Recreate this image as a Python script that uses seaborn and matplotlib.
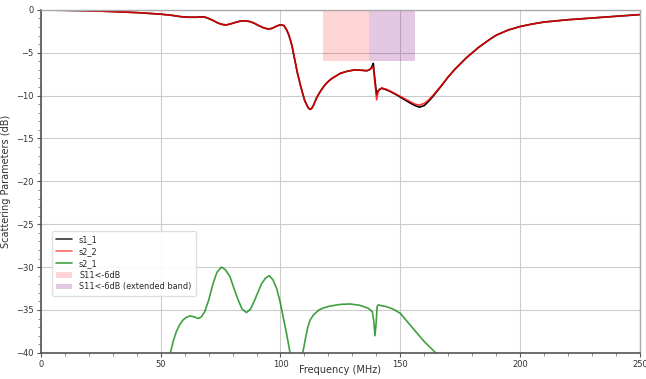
import matplotlib
matplotlib.use("Agg")
import matplotlib.pyplot as plt
from matplotlib.ticker import MultipleLocator
from matplotlib.patches import Patch
from matplotlib.lines import Line2D
import seaborn as sns
import pandas as pd

# Reflection coefficients S11 / S22 (dB) vs frequency (MHz)
freq_s = [0, 10, 20, 30, 40, 50, 55, 58, 60, 62,
          65, 67, 68.5, 70, 72, 74, 76, 77.5, 79, 81,
          83, 85, 87, 89, 91, 93, 95, 96.5, 98, 99.5,
          100.5, 101.5, 102.5, 103.3, 104, 104.8, 105.5, 106.3, 107, 107.8,
          108.5, 109.3, 110, 110.8, 111.5, 112.3, 113, 113.8, 115, 116,
          117, 118, 119, 120.5, 122, 125, 128, 131, 134, 136,
          137, 137.8, 138.4, 138.7, 139.3, 140.1, 140.6, 141.2, 142.2, 144,
          146, 148, 151, 154, 156, 158, 160, 162, 164, 167,
          170, 172.5, 175, 177.5, 180, 182.5, 185, 187.5, 190, 195,
          200, 205, 210, 220, 230, 240, 250]
s11 = [-0.02, -0.05, -0.1, -0.2, -0.32, -0.5, -0.65, -0.78, -0.83, -0.86,
       -0.86, -0.82, -0.85, -1.0, -1.25, -1.55, -1.72, -1.75, -1.65, -1.48,
       -1.33, -1.28, -1.35, -1.55, -1.85, -2.1, -2.25, -2.15, -1.95, -1.78,
       -1.75, -1.85, -2.3, -2.8, -3.4, -4.2, -5.2, -6.3, -7.3, -8.2,
       -9.0, -9.8, -10.5, -11.0, -11.4, -11.6, -11.5, -11.1, -10.3, -9.8,
       -9.35, -8.95, -8.6, -8.2, -7.9, -7.4, -7.15, -7.0, -7.05, -7.1,
       -7.0, -6.8, -6.45, -6.25, -8.0, -9.9, -9.5, -9.3, -9.15, -9.3,
       -9.55, -9.85, -10.35, -10.85, -11.15, -11.35, -11.15, -10.6, -9.95, -8.9,
       -7.8, -7.0, -6.3, -5.6, -5.0, -4.4, -3.9, -3.4, -2.95, -2.35,
       -1.94, -1.65, -1.42, -1.15, -0.95, -0.75, -0.55]
s22 = [-0.02, -0.05, -0.1, -0.2, -0.32, -0.5, -0.65, -0.78, -0.83, -0.86,
       -0.86, -0.82, -0.85, -1.0, -1.25, -1.55, -1.72, -1.75, -1.65, -1.48,
       -1.33, -1.28, -1.35, -1.55, -1.85, -2.1, -2.25, -2.15, -1.95, -1.78,
       -1.75, -1.85, -2.3, -2.8, -3.4, -4.2, -5.2, -6.3, -7.3, -8.2,
       -9.0, -9.8, -10.5, -11.0, -11.4, -11.6, -11.5, -11.1, -10.3, -9.8,
       -9.35, -8.95, -8.6, -8.2, -7.9, -7.4, -7.15, -7.0, -7.05, -7.1,
       -7.0, -6.85, -6.7, -6.6, -8.3, -10.5, -9.6, -9.3, -9.1, -9.25,
       -9.5, -9.8, -10.25, -10.7, -11.0, -11.1, -10.9, -10.45, -9.85, -8.85,
       -7.8, -7.0, -6.3, -5.6, -5.0, -4.4, -3.9, -3.4, -2.95, -2.35,
       -1.94, -1.65, -1.42, -1.15, -0.95, -0.75, -0.55]

# Transmission S21 (dB)
freq_t = [52, 54.1, 55.3, 56.6, 58, 59.4, 60.8, 62.2, 64, 65.7,
          67, 68.4, 70, 71.9, 73.5, 75.4, 77, 78.9, 80.5, 82.3,
          84, 85.8, 87.5, 89, 90.5, 92, 93.7, 95.3, 96.9, 98.4,
          99.8, 101.1, 102.5, 103.9, 105, 107, 109.3, 110.5, 111.4, 112.3,
          113.7, 116, 118, 120.6, 125, 129, 133, 136.6, 138.3, 138.9,
          139.4, 139.9, 140.3, 140.8, 142, 144, 147, 150, 155.4, 160,
          165.8, 168]
s21 = [-43.0, -40.0, -38.6, -37.5, -36.7, -36.15, -35.85, -35.7, -35.8, -36.0,
       -35.8, -35.2, -33.9, -31.9, -30.6, -30.0, -30.3, -31.1, -32.4, -33.8,
       -34.9, -35.3, -34.9, -34.0, -33.0, -32.0, -31.3, -31.0, -31.5, -32.5,
       -34.0, -35.8, -37.7, -39.85, -41.5, -48.0, -40.0, -38.2, -37.0, -36.2,
       -35.6, -35.0, -34.75, -34.55, -34.35, -34.3, -34.45, -34.8, -35.2, -36.3,
       -38.0, -36.5, -34.6, -34.4, -34.5, -34.6, -34.9, -35.4, -37.2, -38.7,
       -40.3, -41.0]

# Bands where S11 < -6 dB
band_main = [117.7, 137.0]
band_ext = [137.0, 156.1]
band_level = -6.0

sns.set_theme(style="whitegrid")
plt.rcParams["font.family"] = ["DejaVu Sans"]

fig = plt.figure(figsize=(6.46, 3.79), dpi=100)
ax = fig.add_axes([0.063, 0.069, 0.928, 0.905])

ax.fill_between(band_main, band_level, 0, color="red", alpha=0.17, lw=0)
ax.fill_between(band_ext, band_level, 0, color="purple", alpha=0.22, lw=0)

df_s = pd.DataFrame({"f": freq_s, "s11": s11, "s22": s22})
df_t = pd.DataFrame({"f": freq_t, "s21": s21})
sns.lineplot(data=df_s, x="f", y="s11", color="black", lw=1.2, ax=ax)
sns.lineplot(data=df_s, x="f", y="s22", color="red", alpha=0.8, lw=1.2, ax=ax)
sns.lineplot(data=df_t, x="f", y="s21", color="green", alpha=0.75, lw=1.2, ax=ax)

ax.set_xlim(0, 250)
ax.set_ylim(-40, 0)
ax.xaxis.set_major_locator(MultipleLocator(50))
ax.xaxis.set_minor_locator(MultipleLocator(10))
ax.yaxis.set_major_locator(MultipleLocator(5))
ax.yaxis.set_minor_locator(MultipleLocator(1))
ax.tick_params(axis="both", which="major", labelsize=6, length=3, width=0.8,
               color="#555555", labelcolor="#333333", pad=2,
               bottom=True, left=True)
ax.tick_params(axis="both", which="minor", length=2, width=0.6,
               color="#777777", bottom=True, left=True)
ax.grid(True, which="major", color="#cccccc", lw=0.8)
ax.grid(False, which="minor")

for side in ("top", "right"):
    ax.spines[side].set_color("#aaaaaa")
    ax.spines[side].set_linewidth(1.0)
for side in ("left", "bottom"):
    ax.spines[side].set_color("#555555")
    ax.spines[side].set_linewidth(1.2)

ax.set_xlabel("Frequency (MHz)", fontsize=7, color="#333333")
ax.xaxis.set_label_coords(0.5, -0.036)
ax.set_ylabel("Scattering Parameters (dB)", fontsize=7, color="#333333", labelpad=4)

handles = [
    Line2D([], [], color="black", lw=1.2, alpha=0.8),
    Line2D([], [], color="red", lw=1.2, alpha=0.6),
    Line2D([], [], color="green", lw=1.2, alpha=0.75),
    Patch(facecolor="red", alpha=0.17, edgecolor="none"),
    Patch(facecolor="purple", alpha=0.22, edgecolor="none"),
]
labels = ["s1_1", "s2_2", "s2_1", "S11<-6dB", "S11<-6dB (extended band)"]
leg = ax.legend(handles, labels, loc="lower left", bbox_to_anchor=(0.012, 0.155),
                fontsize=5.9, frameon=True, edgecolor="#dddddd", facecolor="white",
                framealpha=0.9, borderpad=0.5, labelspacing=0.35, handlelength=2.0)
leg.set_zorder(5)

fig.savefig("out.png", dpi=100)
